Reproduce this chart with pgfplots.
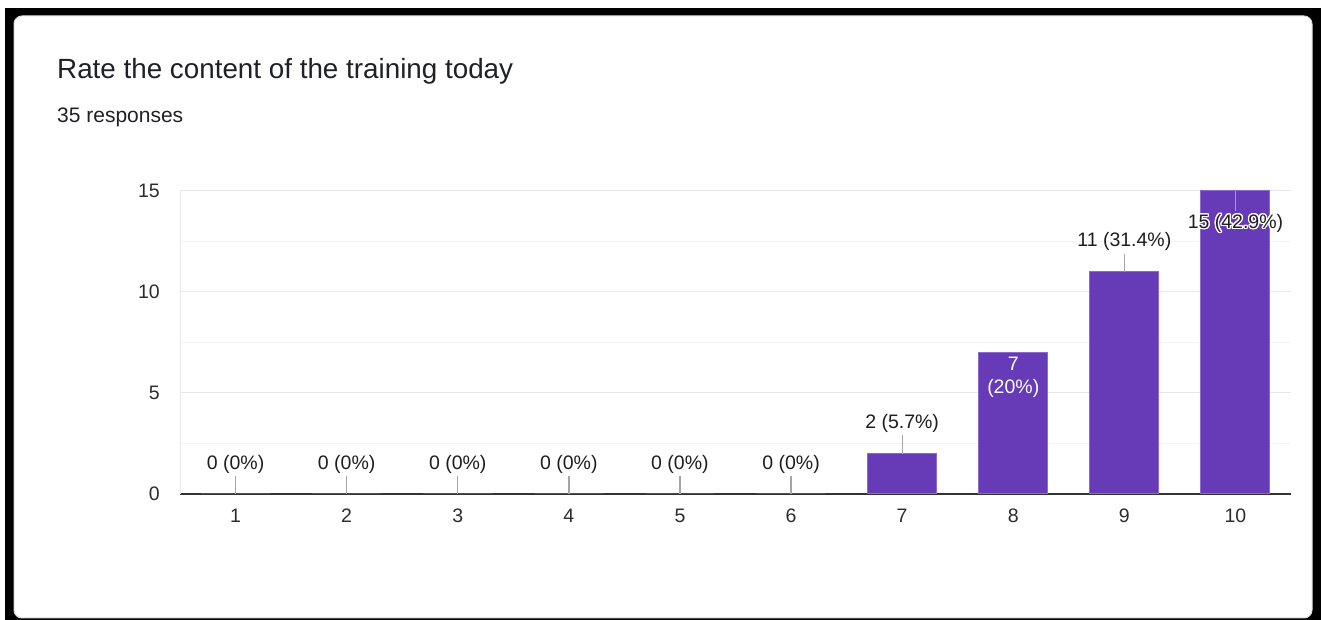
\documentclass[border=0pt]{standalone}
\usepackage{pgfplots}
\pgfplotsset{compat=1.18}
\usepackage{pgfplotstable}
\usepackage{fontspec}
\setmainfont{Liberation Sans}
\usepackage{contour}
\contourlength{1.3pt}
\definecolor{barc}{RGB}{103,58,183}
\definecolor{baredge}{RGB}{140,105,205}
\definecolor{labc}{RGB}{30,30,30}
\definecolor{tickc}{RGB}{45,45,45}
\definecolor{leadc}{RGB}{165,165,165}
\definecolor{gridc}{RGB}{232,232,232}
\definecolor{gridm}{RGB}{243,243,243}
\definecolor{axisc}{RGB}{51,51,51}
\definecolor{titlec}{RGB}{32,33,36}
\definecolor{cardedge}{RGB}{218,220,224}
\begin{document}
\pgfplotstableread{
x y
1 0
2 0
3 0
4 0
5 0
6 0
7 2
8 7
9 11
10 15
}\bartab
\pgfplotstableread[col sep=comma]{
x,y,e,lab
1,0,0.9,0 (0\%)
2,0,0.9,0 (0\%)
3,0,0.9,0 (0\%)
4,0,0.9,0 (0\%)
5,0,0.9,0 (0\%)
6,0,0.9,0 (0\%)
7,2,0.9,2 (5.7\%)
9,11,0.9,11 (31.4\%)
}\abovetab
\begin{tikzpicture}[x=1pt,y=1pt]
\useasboundingbox (0,0) rectangle (1321,620);
\fill[white] (0,0) rectangle (1321,620);
\fill[black] (5,0) rectangle (1321,612);
\filldraw[fill=white, draw=cardedge, line width=1pt, rounded corners=8pt] (14,2) rectangle (1312,604);
\node[anchor=base west, inner sep=0pt, font=\fontsize{27.8}{32}\selectfont, text=titlec] at (57,541) {Rate the content of the training today};
\node[anchor=base west, inner sep=0pt, font=\fontsize{21}{25}\selectfont, text=titlec] at (57,497) {35 responses};
\begin{axis}[
  at={(180pt,126pt)}, anchor=south west,
  scale only axis, width=1111pt, height=303pt,
  xmin=0.5, xmax=10.5, ymin=0, ymax=15,
  clip=false,
  axis x line*=bottom, axis y line*=left,
  x axis line style={draw=axisc, line width=1.5pt, -},
  y axis line style={draw=gridc, line width=1pt, -},
  xtick={1,...,10}, ytick={0,5,10,15}, minor ytick={2.5,7.5,12.5},
  major tick length=0pt, minor tick length=0pt,
  tick style={draw=none},
  ymajorgrids, yminorgrids,
  major grid style={draw=gridc, line width=1pt},
  minor grid style={draw=gridm, line width=1pt},
  tick label style={font=\fontsize{19.5}{23}\selectfont, text=tickc},
  /pgf/number format/assume math mode=true,
  xticklabel style={anchor=center, yshift=-22pt, inner sep=0pt},
  yticklabel style={anchor=east, xshift=-20pt, inner sep=0pt},
]
\addplot[ybar, bar width=69pt, fill=barc, draw=baredge, line width=1pt] table[x=x,y=y]{\bartab};
\addplot[draw=none, mark=none, point meta=explicit symbolic, nodes near coords,
  every node near coord/.append style={anchor=center, yshift=30pt, inner sep=0pt, font=\fontsize{19.5}{23}\selectfont, text=labc},
  error bars/.cd, y dir=plus, y explicit, error mark=none,
  error bar style={draw=leadc, line width=1.3pt, solid}]
  table[x=x, y=y, y error=e, meta=lab]{\abovetab};
\addplot[draw=none, mark=none, nodes near coords={7\\(20\%)},
  every node near coord/.append style={anchor=center, yshift=-25pt, align=center, inner sep=0pt, font=\fontsize{19.5}{23}\selectfont, text=white}]
  coordinates {(8,7)};
\addplot[draw=none, mark=none, nodes near coords={\contour{white}{15 (42.9\%)}},
  every node near coord/.append style={anchor=center, yshift=-33pt, inner sep=0pt, font=\fontsize{19.5}{23}\selectfont, text=labc},
  error bars/.cd, y dir=minus, y fixed=1.0, error mark=none,
  error bar style={draw=leadc, line width=1.3pt, solid}]
  coordinates {(10,15)};
\end{axis}
\end{tikzpicture}
\end{document}
